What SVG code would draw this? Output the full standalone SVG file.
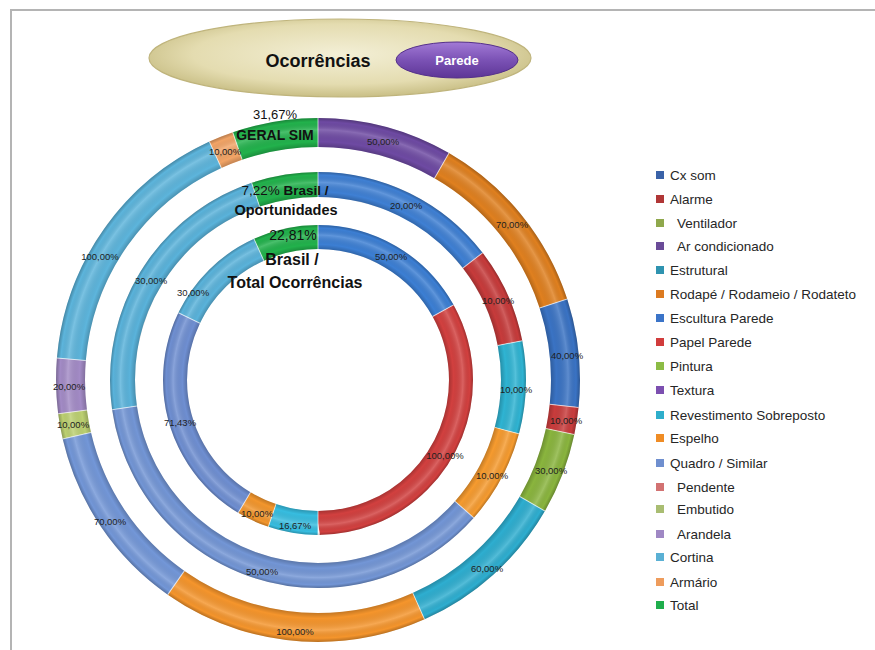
<svg xmlns="http://www.w3.org/2000/svg" width="875" height="650" viewBox="0 0 875 650">
<style>
text{font-family:"Liberation Sans",Arial,sans-serif}
.seg{fill:none}
.o{stroke-width:29}
.m{stroke-width:25}
.i{stroke-width:24}
.sep{stroke:#ffffff;stroke-opacity:.65;stroke-width:1}
.pct{font-size:9.5px;fill:#1e1e1e;text-anchor:middle}
.big{fill:#111;text-anchor:middle}
.b{font-weight:bold}
.lg{font-size:13.5px;fill:#262626}
</style>
<defs>
<radialGradient id="tan" cx="50%" cy="45%" r="55%">
<stop offset="0" stop-color="#f3efd6"/>
<stop offset=".7" stop-color="#e4dcb0"/>
<stop offset="1" stop-color="#c9bf86"/>
</radialGradient>
<linearGradient id="purp" x1="0" y1="0" x2="0" y2="1">
<stop offset="0" stop-color="#a27ad6"/>
<stop offset=".5" stop-color="#7b52b5"/>
<stop offset="1" stop-color="#5d3596"/>
</linearGradient>
<radialGradient id="bevO" gradientUnits="userSpaceOnUse" cx="318" cy="380" r="262">
<stop offset=".889" stop-color="#000" stop-opacity=".2"/>
<stop offset=".91" stop-color="#000" stop-opacity="0"/>
<stop offset=".955" stop-color="#fff" stop-opacity=".18"/>
<stop offset=".985" stop-color="#000" stop-opacity="0"/>
<stop offset="1" stop-color="#000" stop-opacity=".25"/>
</radialGradient>
<radialGradient id="bevM" gradientUnits="userSpaceOnUse" cx="318" cy="380" r="208">
<stop offset=".88" stop-color="#000" stop-opacity=".2"/>
<stop offset=".905" stop-color="#000" stop-opacity="0"/>
<stop offset=".95" stop-color="#fff" stop-opacity=".18"/>
<stop offset=".985" stop-color="#000" stop-opacity="0"/>
<stop offset="1" stop-color="#000" stop-opacity=".25"/>
</radialGradient>
<radialGradient id="bevI" gradientUnits="userSpaceOnUse" cx="318" cy="380" r="155">
<stop offset=".845" stop-color="#000" stop-opacity=".2"/>
<stop offset=".875" stop-color="#000" stop-opacity="0"/>
<stop offset=".935" stop-color="#fff" stop-opacity=".18"/>
<stop offset=".98" stop-color="#000" stop-opacity="0"/>
<stop offset="1" stop-color="#000" stop-opacity=".25"/>
</radialGradient>
</defs>
<rect width="875" height="650" fill="#ffffff"/>
<g id="frame" stroke="#b4b4b4" stroke-width="2">
<line x1="10" y1="10" x2="875" y2="10"/>
<line x1="11" y1="10" x2="11" y2="650"/>
</g>

<g id="title">
<ellipse cx="340" cy="58" rx="191" ry="39" fill="url(#tan)" stroke="#bfb47c" stroke-width="1.2"/>
<text x="318" y="67" class="big b" font-size="18">Ocorrências</text>
</g>
<g id="parede">
<ellipse cx="457" cy="60" rx="61" ry="18" fill="url(#purp)" stroke="#55308a" stroke-width="1"/>
<text x="457" y="65" font-size="13" font-weight="bold" fill="#ffffff" text-anchor="middle">Parede</text>
</g>

<g id="ring-outer" transform="rotate(-90 318 380)">
<circle id="o-textura" class="seg o" cx="318" cy="380" r="247.5" pathLength="360" stroke="#6e4aa3" stroke-dasharray="30 400" stroke-dashoffset="0"/>
<circle id="o-rodape" class="seg o" cx="318" cy="380" r="247.5" pathLength="360" stroke="#e0801f" stroke-dasharray="42 400" stroke-dashoffset="-30"/>
<circle id="o-escultura" class="seg o" cx="318" cy="380" r="247.5" pathLength="360" stroke="#3a73c4" stroke-dasharray="24 400" stroke-dashoffset="-72"/>
<circle id="o-papel" class="seg o" cx="318" cy="380" r="247.5" pathLength="360" stroke="#c93c3c" stroke-dasharray="6 400" stroke-dashoffset="-96"/>
<circle id="o-pintura" class="seg o" cx="318" cy="380" r="247.5" pathLength="360" stroke="#8ab53e" stroke-dasharray="18 400" stroke-dashoffset="-102"/>
<circle id="o-revestimento" class="seg o" cx="318" cy="380" r="247.5" pathLength="360" stroke="#2eaed0" stroke-dasharray="36 400" stroke-dashoffset="-120"/>
<circle id="o-espelho" class="seg o" cx="318" cy="380" r="247.5" pathLength="360" stroke="#f5952c" stroke-dasharray="59 400" stroke-dashoffset="-156"/>
<circle id="o-quadro" class="seg o" cx="318" cy="380" r="247.5" pathLength="360" stroke="#7397d8" stroke-dasharray="42 400" stroke-dashoffset="-215"/>
<circle id="o-embutido" class="seg o" cx="318" cy="380" r="247.5" pathLength="360" stroke="#bcd071" stroke-dasharray="5.6 400" stroke-dashoffset="-257"/>
<circle id="o-arandela" class="seg o" cx="318" cy="380" r="247.5" pathLength="360" stroke="#a38bc6" stroke-dasharray="12.2 400" stroke-dashoffset="-262.6"/>
<circle id="o-cortina" class="seg o" cx="318" cy="380" r="247.5" pathLength="360" stroke="#5db5dc" stroke-dasharray="60.7 400" stroke-dashoffset="-274.8"/>
<circle id="o-armario" class="seg o" cx="318" cy="380" r="247.5" pathLength="360" stroke="#f2a466" stroke-dasharray="5.5 400" stroke-dashoffset="-335.5"/>
<circle id="o-total" class="seg o" cx="318" cy="380" r="247.5" pathLength="360" stroke="#22b24c" stroke-dasharray="19 400" stroke-dashoffset="-341"/>
<circle class="seg o" cx="318" cy="380" r="247.5" stroke="url(#bevO)"/>
</g>

<g id="ring-middle" transform="rotate(-90 318 380)">
<circle id="m-escultura" class="seg m" cx="318" cy="380" r="195.5" pathLength="360" stroke="#3f80d4" stroke-dasharray="52.3 400" stroke-dashoffset="0"/>
<circle id="m-papel" class="seg m" cx="318" cy="380" r="195.5" pathLength="360" stroke="#c73b3b" stroke-dasharray="26.8 400" stroke-dashoffset="-52.3"/>
<circle id="m-revestimento" class="seg m" cx="318" cy="380" r="195.5" pathLength="360" stroke="#2fb4d3" stroke-dasharray="25.9 400" stroke-dashoffset="-79.1"/>
<circle id="m-espelho" class="seg m" cx="318" cy="380" r="195.5" pathLength="360" stroke="#f69b2f" stroke-dasharray="26.5 400" stroke-dashoffset="-105"/>
<circle id="m-quadro" class="seg m" cx="318" cy="380" r="195.5" pathLength="360" stroke="#7396d6" stroke-dasharray="130.3 400" stroke-dashoffset="-131.5"/>
<circle id="m-cortina" class="seg m" cx="318" cy="380" r="195.5" pathLength="360" stroke="#5ab3db" stroke-dasharray="79.6 400" stroke-dashoffset="-261.8"/>
<circle id="m-total" class="seg m" cx="318" cy="380" r="195.5" pathLength="360" stroke="#22b24c" stroke-dasharray="18.6 400" stroke-dashoffset="-341.4"/>
<circle class="seg m" cx="318" cy="380" r="195.5" stroke="url(#bevM)"/>
</g>

<g id="ring-inner" transform="rotate(-90 318 380)">
<circle id="i-escultura" class="seg i" cx="318" cy="380" r="143" pathLength="360" stroke="#3c7fd4" stroke-dasharray="61 400" stroke-dashoffset="0"/>
<circle id="i-papel" class="seg i" cx="318" cy="380" r="143" pathLength="360" stroke="#d2403f" stroke-dasharray="119 400" stroke-dashoffset="-61"/>
<circle id="i-revestimento" class="seg i" cx="318" cy="380" r="143" pathLength="360" stroke="#37bde0" stroke-dasharray="18.7 400" stroke-dashoffset="-180"/>
<circle id="i-espelho" class="seg i" cx="318" cy="380" r="143" pathLength="360" stroke="#f3962c" stroke-dasharray="12.3 400" stroke-dashoffset="-198.7"/>
<circle id="i-quadro" class="seg i" cx="318" cy="380" r="143" pathLength="360" stroke="#6f8fd2" stroke-dasharray="84.7 400" stroke-dashoffset="-211"/>
<circle id="i-cortina" class="seg i" cx="318" cy="380" r="143" pathLength="360" stroke="#5ab3db" stroke-dasharray="39.9 400" stroke-dashoffset="-295.7"/>
<circle id="i-total" class="seg i" cx="318" cy="380" r="143" pathLength="360" stroke="#22b24c" stroke-dasharray="24.4 400" stroke-dashoffset="-335.6"/>
<circle class="seg i" cx="318" cy="380" r="143" stroke="url(#bevI)"/>
</g>

<g id="separators" class="sep">
<line class="sep" x1="318" y1="118" x2="318" y2="147"/>
<line class="sep" x1="318" y1="118" x2="318" y2="147" transform="rotate(30 318 380)"/>
<line class="sep" x1="318" y1="118" x2="318" y2="147" transform="rotate(72 318 380)"/>
<line class="sep" x1="318" y1="118" x2="318" y2="147" transform="rotate(96 318 380)"/>
<line class="sep" x1="318" y1="118" x2="318" y2="147" transform="rotate(102 318 380)"/>
<line class="sep" x1="318" y1="118" x2="318" y2="147" transform="rotate(120 318 380)"/>
<line class="sep" x1="318" y1="118" x2="318" y2="147" transform="rotate(156 318 380)"/>
<line class="sep" x1="318" y1="118" x2="318" y2="147" transform="rotate(215 318 380)"/>
<line class="sep" x1="318" y1="118" x2="318" y2="147" transform="rotate(257 318 380)"/>
<line class="sep" x1="318" y1="118" x2="318" y2="147" transform="rotate(262.6 318 380)"/>
<line class="sep" x1="318" y1="118" x2="318" y2="147" transform="rotate(274.8 318 380)"/>
<line class="sep" x1="318" y1="118" x2="318" y2="147" transform="rotate(335.5 318 380)"/>
<line class="sep" x1="318" y1="118" x2="318" y2="147" transform="rotate(341 318 380)"/>
<line class="sep" x1="318" y1="172" x2="318" y2="197"/>
<line class="sep" x1="318" y1="172" x2="318" y2="197" transform="rotate(52.3 318 380)"/>
<line class="sep" x1="318" y1="172" x2="318" y2="197" transform="rotate(79.1 318 380)"/>
<line class="sep" x1="318" y1="172" x2="318" y2="197" transform="rotate(105 318 380)"/>
<line class="sep" x1="318" y1="172" x2="318" y2="197" transform="rotate(131.5 318 380)"/>
<line class="sep" x1="318" y1="172" x2="318" y2="197" transform="rotate(261.8 318 380)"/>
<line class="sep" x1="318" y1="172" x2="318" y2="197" transform="rotate(341.4 318 380)"/>
<line class="sep" x1="318" y1="225" x2="318" y2="249"/>
<line class="sep" x1="318" y1="225" x2="318" y2="249" transform="rotate(61 318 380)"/>
<line class="sep" x1="318" y1="225" x2="318" y2="249" transform="rotate(180 318 380)"/>
<line class="sep" x1="318" y1="225" x2="318" y2="249" transform="rotate(198.7 318 380)"/>
<line class="sep" x1="318" y1="225" x2="318" y2="249" transform="rotate(211 318 380)"/>
<line class="sep" x1="318" y1="225" x2="318" y2="249" transform="rotate(295.7 318 380)"/>
<line class="sep" x1="318" y1="225" x2="318" y2="249" transform="rotate(335.6 318 380)"/>
</g>

<g id="labels-outer">
<text class="pct" x="383" y="145">50,00%</text>
<text class="pct" x="512" y="228">70,00%</text>
<text class="pct" x="567" y="359">40,00%</text>
<text class="pct" x="566" y="424">10,00%</text>
<text class="pct" x="551" y="474">30,00%</text>
<text class="pct" x="487" y="572">60,00%</text>
<text class="pct" x="295" y="635">100,00%</text>
<text class="pct" x="110" y="525">70,00%</text>
<text class="pct" x="73" y="428">10,00%</text>
<text class="pct" x="69" y="390">20,00%</text>
<text class="pct" x="100" y="260">100,00%</text>
<text class="pct" x="225" y="155">10,00%</text>
<text class="big" x="275" y="119" font-size="13">31,67%</text>
<text class="big b" x="275" y="140" font-size="14">GERAL SIM</text>
</g>

<g id="labels-middle">
<text class="pct" x="406" y="209">20,00%</text>
<text class="pct" x="498" y="304">10,00%</text>
<text class="pct" x="516" y="393">10,00%</text>
<text class="pct" x="492" y="479">10,00%</text>
<text class="pct" x="262" y="575">50,00%</text>
<text class="pct" x="151" y="284">30,00%</text>
<text class="big" x="285" y="195" font-size="13.5">7,22%<tspan font-weight="bold"> Brasil /</tspan></text>
<text class="big b" x="286" y="215" font-size="14.5">Oportunidades</text>
</g>

<g id="labels-inner">
<text class="pct" x="391" y="260">50,00%</text>
<text class="pct" x="445" y="459">100,00%</text>
<text class="pct" x="295" y="529">16,67%</text>
<text class="pct" x="257" y="517">10,00%</text>
<text class="pct" x="180" y="426">71,43%</text>
<text class="pct" x="193" y="296">30,00%</text>
<text class="big" x="293" y="240" font-size="14">22,81%</text>
<text class="big b" x="292" y="265" font-size="16">Brasil /</text>
<text class="big b" x="295" y="288" font-size="16">Total Ocorrências</text>
</g>

<g id="legend">
<g id="lg-cxsom"><rect x="656" y="171" width="8" height="8" fill="#3a62a8"/><text class="lg" x="670" y="180">Cx som</text></g>
<g id="lg-alarme"><rect x="656" y="195" width="8" height="8" fill="#b03636"/><text class="lg" x="670" y="204">Alarme</text></g>
<g id="lg-ventilador"><rect x="656" y="219" width="8" height="8" fill="#8fa84c"/><text class="lg" x="677" y="228">Ventilador</text></g>
<g id="lg-ar"><rect x="656" y="242" width="8" height="8" fill="#6a4b98"/><text class="lg" x="677" y="251">Ar condicionado</text></g>
<g id="lg-estrutural"><rect x="656" y="266" width="8" height="8" fill="#2f93b0"/><text class="lg" x="670" y="275">Estrutural</text></g>
<g id="lg-rodape"><rect x="656" y="290" width="8" height="8" fill="#dc7a20"/><text class="lg" x="670" y="299">Rodapé / Rodameio / Rodateto</text></g>
<g id="lg-escultura"><rect x="656" y="314" width="8" height="8" fill="#3b74c8"/><text class="lg" x="670" y="323">Escultura Parede</text></g>
<g id="lg-papel"><rect x="656" y="338" width="8" height="8" fill="#d13c3c"/><text class="lg" x="670" y="347">Papel Parede</text></g>
<g id="lg-pintura"><rect x="656" y="362" width="8" height="8" fill="#8cbc45"/><text class="lg" x="670" y="371">Pintura</text></g>
<g id="lg-textura"><rect x="656" y="386" width="8" height="8" fill="#7c4fb0"/><text class="lg" x="670" y="395">Textura</text></g>
<g id="lg-revestimento"><rect x="656" y="411" width="8" height="8" fill="#2eaecb"/><text class="lg" x="670" y="420">Revestimento Sobreposto</text></g>
<g id="lg-espelho"><rect x="656" y="434" width="8" height="8" fill="#ef8c25"/><text class="lg" x="670" y="443">Espelho</text></g>
<g id="lg-quadro"><rect x="656" y="459" width="8" height="8" fill="#6f8fcf"/><text class="lg" x="670" y="468">Quadro / Similar</text></g>
<g id="lg-pendente"><rect x="656" y="483" width="8" height="8" fill="#d27272"/><text class="lg" x="677" y="492">Pendente</text></g>
<g id="lg-embutido"><rect x="656" y="505" width="8" height="8" fill="#a9bd72"/><text class="lg" x="677" y="514">Embutido</text></g>
<g id="lg-arandela"><rect x="656" y="530" width="8" height="8" fill="#9f88c4"/><text class="lg" x="677" y="539">Arandela</text></g>
<g id="lg-cortina"><rect x="656" y="553" width="8" height="8" fill="#5ab0d4"/><text class="lg" x="670" y="562">Cortina</text></g>
<g id="lg-armario"><rect x="656" y="578" width="8" height="8" fill="#ee9c5c"/><text class="lg" x="670" y="587">Armário</text></g>
<g id="lg-total"><rect x="656" y="601" width="8" height="8" fill="#1fae4c"/><text class="lg" x="670" y="610">Total</text></g>
</g>
</svg>
